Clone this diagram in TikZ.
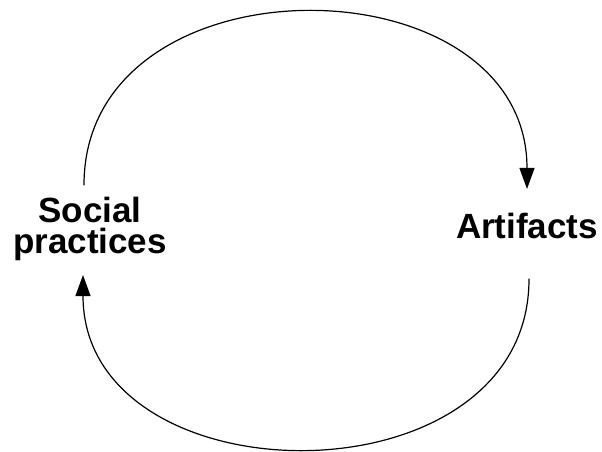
\documentclass[tikz,border=0pt]{standalone}
\usepackage{fontspec}
\setmainfont{Liberation Sans}
\usetikzlibrary{arrows.meta}

\begin{document}
\begin{tikzpicture}[x=1pt,y=1pt,line cap=round,
  label/.style={font=\bfseries\fontsize{35}{31}\selectfont,align=center,inner sep=0pt},
  cycle/.style={line width=1.2pt,-{Triangle[length=21pt,width=15pt]}}]
  \useasboundingbox (0,0) rectangle (602,451);
  % ---------------- the two poles ----------------
  \node[label] (social) at (90,222) {Social\\practices};
  \node[label] (art) at (527,225) {Artifacts};
  % ---------------- upper arc: practices shape artifacts ----------------
  \draw[cycle] ([xshift=-6pt,yshift=12pt]social.north)
    .. controls +(0,232) and +(0,232) .. ([yshift=24pt]art.north);
  % ---------------- lower arc: artifacts shape practices ----------------
  \draw[cycle] ([xshift=2pt,yshift=-40pt]art.south)
    .. controls +(0,-228) and +(0,-228) .. ([xshift=-7pt,yshift=-14pt]social.south);
\end{tikzpicture}
\end{document}
